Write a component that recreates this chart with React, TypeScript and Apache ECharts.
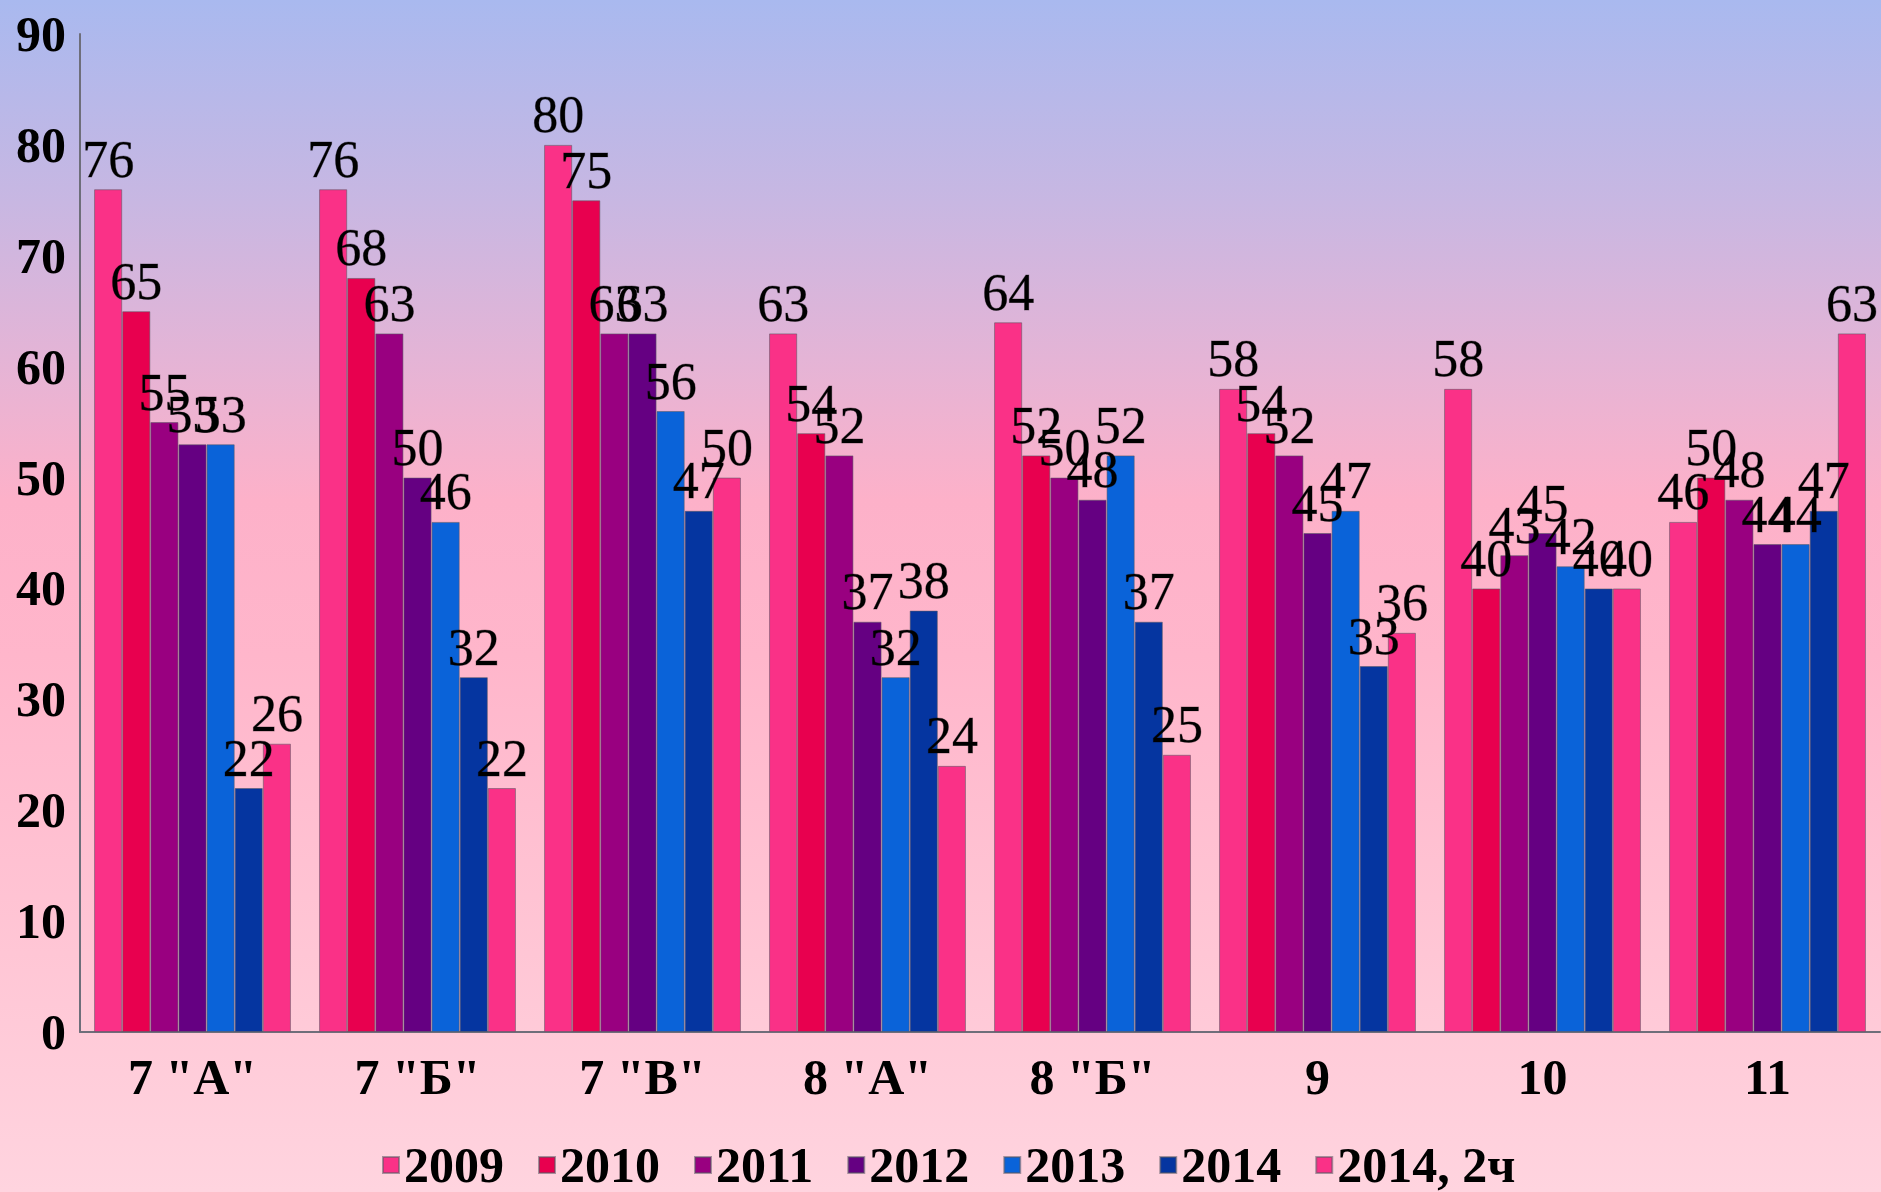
import React, { useEffect, useRef } from "react";
import * as echarts from "echarts";

const categories = ['7 "А"', '7 "Б"', '7 "В"', '8 "А"', '8 "Б"', "9", "10", "11"];
const seriesNames = ["2009", "2010", "2011", "2012", "2013", "2014", "2014, 2ч"];
const v2009 = [76, 76, 80, 63, 64, 58, 58, 46];
const v2010 = [65, 68, 75, 54, 52, 54, 40, 50];
const v2011 = [55, 63, 63, 52, 50, 52, 43, 48];
const v2012 = [53, 50, 63, 37, 48, 45, 45, 44];
const v2013 = [53, 46, 56, 32, 52, 47, 42, 44];
const v2014 = [22, 32, 47, 38, 37, 33, 40, 47];
const v2014h2 = [26, 22, 50, 24, 25, 36, 40, 63];
const yTicks = { min: 0, max: 90, interval: 10 };

const colors = ["#FA3187", "#E8004F", "#990080", "#650082", "#0A63D9", "#0535A0", "#FA3187"];
const FONT = "'Liberation Serif', 'Times New Roman', serif";

export default function App() {
  const ref = useRef<HTMLDivElement>(null);
  useEffect(() => {
    if (!ref.current) return;
    const chart = echarts.init(ref.current, undefined, { renderer: "svg" });
    const values = [v2009, v2010, v2011, v2012, v2013, v2014, v2014h2];
    chart.setOption({
      animation: false,
      backgroundColor: {
        type: "linear",
        x: 0, y: 0, x2: 0, y2: 1,
        colorStops: [
          { offset: 0, color: "#A9B9EF" },
          { offset: 0.17, color: "#C8B7E2" },
          { offset: 0.3, color: "#E4B4D6" },
          { offset: 0.42, color: "#FDB1C9" },
          { offset: 0.55, color: "#FFB6CB" },
          { offset: 0.8, color: "#FFC6D5" },
          { offset: 1, color: "#FFD4DF" },
        ],
      },
      grid: { left: 80, right: 1, top: 34, bottom: 160, containLabel: false },
      legend: {
        data: seriesNames,
        left: 382,
        top: 1140,
        padding: 0,
        itemWidth: 16,
        itemHeight: 16,
        itemGap: 34,
        icon: "rect",
        textStyle: { fontFamily: FONT, fontWeight: "bold", fontSize: 50, lineHeight: 42, color: "#000" },
      },
      xAxis: {
        type: "category",
        data: categories,
        axisLine: { lineStyle: { color: "#6E6E7A", width: 2 } },
        axisTick: { show: false },
        axisLabel: { fontFamily: FONT, fontWeight: "bold", fontSize: 50, color: "#000", margin: 20 },
      },
      yAxis: {
        type: "value",
        min: yTicks.min,
        max: yTicks.max,
        interval: yTicks.interval,
        splitLine: { show: false },
        axisLine: { show: true, lineStyle: { color: "#6E6E7A", width: 2 } },
        axisTick: { show: false },
        axisLabel: { fontFamily: FONT, fontWeight: "bold", fontSize: 50, color: "#000", margin: 14 },
      },
      series: seriesNames.map((name, i) => ({
        name,
        type: "bar",
        data: values[i],
        barGap: "0%",
        barCategoryGap: "12.5%",
        itemStyle: { color: colors[i], borderColor: "rgba(90,90,100,0.55)", borderWidth: 1 },
        label: {
          show: true,
          position: "top",
          distance: 4,
          fontFamily: FONT,
          fontSize: 52,
          color: "#000",
          textBorderColor: "rgba(0,0,0,0.35)",
          textBorderWidth: 0.8,
        },
      })),
    });
    return () => chart.dispose();
  }, []);
  return (
    <div
      ref={ref}
      style={{ position: "fixed", left: 0, top: 0, width: 1881, height: 1192 }}
    />
  );
}
